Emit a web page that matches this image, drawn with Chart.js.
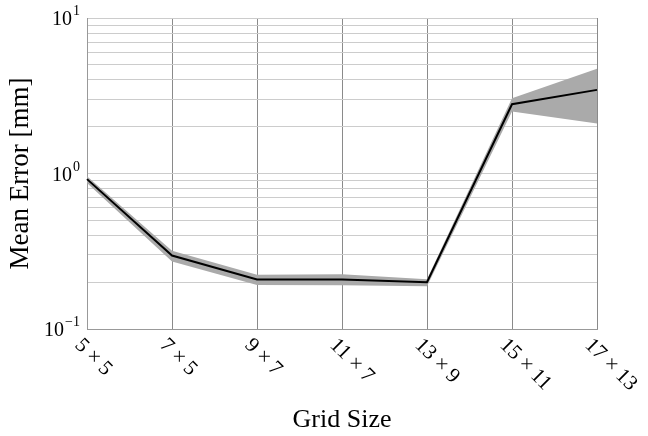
<!DOCTYPE html>
<html>
<head>
<meta charset="utf-8">
<script src="https://cdn.jsdelivr.net/npm/chart.js@4/dist/chart.umd.min.js"></script>
<style>
  html, body { margin: 0; padding: 0; background: #ffffff; }
  #wrap { width: 648px; height: 436px; }
</style>
</head>
<body>
<div id="wrap"><canvas id="c" width="648" height="436"></canvas></div>
<script>
// ---- data ----
const categories = ['5 × 5', '7 × 5', '9 × 7', '11 × 7', '13 × 9', '15 × 11', '17 × 13'];
const meanError  = [0.92, 0.297, 0.208, 0.208, 0.200, 2.79, 3.45];
const upperBand  = [0.96, 0.318, 0.223, 0.225, 0.209, 3.05, 4.71];
const lowerBand  = [0.87, 0.272, 0.192, 0.191, 0.188, 2.50, 2.10];
const yGridValues = [0.1,0.2,0.3,0.4,0.5,0.6,0.7,0.8,0.9,1,2,3,4,5,6,7,8,9,10];
const yTickExponents = [-1, 0, 1];
const xTitle = 'Grid Size';
const yTitle = 'Mean Error [mm]';

const SERIF = '"Liberation Serif", "DejaVu Serif", serif';

const labelPlugin = {
  id: 'labels',
  afterDraw(chart) {
    const ctx = chart.ctx;
    const xs = chart.scales.x, ys = chart.scales.y;
    const area = chart.chartArea;
    ctx.save();
    ctx.fillStyle = '#000';
    // y tick labels 10^k
    yTickExponents.forEach(e => {
      const y = ys.getPixelForValue(Math.pow(10, e));
      const expStr = e < 0 ? '\u2212' + Math.abs(e) : String(e);
      ctx.font = '14px ' + SERIF;
      const ew = ctx.measureText(expStr).width;
      ctx.font = '20px ' + SERIF;
      const bw = ctx.measureText('10').width;
      const right = area.left - 7;
      ctx.textBaseline = 'alphabetic';
      ctx.textAlign = 'left';
      ctx.fillText('10', right - ew - bw - 1, y + 7);
      ctx.font = '14px ' + SERIF;
      ctx.fillText(expStr, right - ew, y - 3);
    });
    // x tick labels rotated 45deg clockwise
    ctx.font = '21px ' + SERIF;
    categories.forEach((c, i) => {
      const x = xs.getPixelForValue(i);
      ctx.save();
      ctx.translate(x - 9, area.bottom + 13);
      ctx.rotate(Math.PI / 4);
      ctx.textAlign = 'left';
      ctx.textBaseline = 'middle';
      ctx.fillText(c, 0, 0);
      ctx.restore();
    });
    // axis titles
    ctx.font = '26px ' + SERIF;
    ctx.textAlign = 'center';
    ctx.textBaseline = 'alphabetic';
    ctx.fillText(xTitle, (area.left + area.right) / 2, 427);
    ctx.font = '27px ' + SERIF;
    ctx.save();
    ctx.translate(28, (area.top + area.bottom) / 2);
    ctx.rotate(-Math.PI / 2);
    ctx.fillText(yTitle, 0, 0);
    ctx.restore();
    ctx.restore();
  }
};

new Chart(document.getElementById('c'), {
  type: 'line',
  data: {
    labels: categories,
    datasets: [
      { label: 'mean', data: meanError, borderColor: '#000000', borderWidth: 2,
        pointRadius: 0, fill: false, tension: 0, order: 0 },
      { label: 'upper', data: upperBand, borderColor: 'rgba(0,0,0,0)', borderWidth: 0,
        backgroundColor: '#aaaaaa', pointRadius: 0, fill: '+1', tension: 0, order: 1 },
      { label: 'lower', data: lowerBand, borderColor: 'rgba(0,0,0,0)', borderWidth: 0,
        pointRadius: 0, fill: false, tension: 0, order: 2 }
    ]
  },
  options: {
    responsive: false,
    animation: false,
    events: [],
    layout: { padding: { left: 87, right: 51, top: 18, bottom: 107 } },
    plugins: { legend: { display: false }, tooltip: { enabled: false } },
    scales: {
      x: {
        type: 'category',
        offset: false,
        ticks: { display: false },
        grid: { color: '#8a8a8a', lineWidth: 1, drawTicks: false, offset: false },
        border: { color: '#999999' }
      },
      y: {
        type: 'logarithmic',
        min: 0.1, max: 10,
        afterBuildTicks: (scale) => { scale.ticks = yGridValues.map(v => ({ value: v })); },
        ticks: { display: false },
        grid: { color: '#cccccc', lineWidth: 1, drawTicks: false },
        border: { color: '#999999' }
      }
    }
  },
  plugins: [labelPlugin]
});
</script>
</body>
</html>
